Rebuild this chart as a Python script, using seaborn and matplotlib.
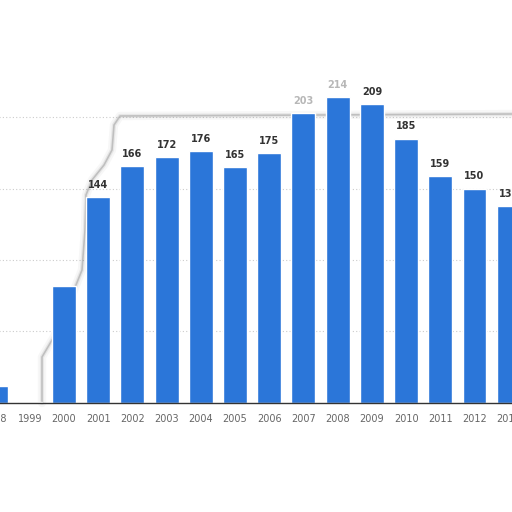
import matplotlib
matplotlib.use('Agg')
import matplotlib.pyplot as plt
import seaborn as sns
import pandas as pd

# Dados
anos = ['1998', '1999', '2000', '2001', '2002', '2003', '2004', '2005',
        '2006', '2007', '2008', '2009', '2010', '2011', '2012', '2013']
valores = [12, 1, 82, 144, 166, 172, 176, 165,
           175, 203, 214, 209, 185, 159, 150, 138]

df = pd.DataFrame({'Ano': anos, 'Valor': valores})

sns.set_style('white')
fig = plt.figure(figsize=(5.12, 5.12), dpi=100)
ax = fig.add_axes([-0.042, 0.213, 1.069, 0.67])

sns.barplot(data=df, x='Ano', y='Valor', color='#2b76d9', width=0.7,
            saturation=1, ax=ax, zorder=2)

ax.set_xlim(-0.5, len(anos) - 0.5)
ax.set_ylim(0, 240)
ax.set_yticks([50, 100, 150, 200])
ax.yaxis.grid(True, linestyle=(0, (1, 2)), color='#cccccc', linewidth=0.8)
ax.set_axisbelow(True)
ax.set_yticklabels([])
ax.tick_params(axis='y', length=0)
ax.tick_params(axis='x', length=0, labelsize=7, labelcolor='#666666', pad=8)
ax.set_xlabel('')
ax.set_ylabel('')
for lado in ['top', 'left', 'right']:
    ax.spines[lado].set_visible(False)
ax.spines['bottom'].set_color('#333333')
ax.spines['bottom'].set_linewidth(1.0)

# Rótulos de valor
for i, v in enumerate(valores):
    if i < 3:
        continue
    alpha = 0.35 if anos[i] in ('2007', '2008') else 1.0
    ax.text(i, v + 5, str(v), ha='center', va='bottom', fontsize=7,
            fontweight='bold', color='#333333', alpha=alpha, zorder=3)

# contorno cinza (sombra do recorte da imagem original)
px = [42, 42, 55, 70, 82, 85, 86, 92, 104, 112, 114, 120, 512]
py = [403, 357, 335, 300, 270, 230, 195, 180, 165, 150, 125, 116, 114]
fx = [x / 512 for x in px]
fy = [1 - y / 512 for y in py]
for lw, a in [(6, 0.06), (3, 0.12), (1.2, 0.35)]:
    ax.plot(fx, fy, color='#777777', lw=lw, alpha=a, transform=fig.transFigure,
            clip_on=False, zorder=1, solid_capstyle='round')

fig.savefig('out.png', dpi=100)
